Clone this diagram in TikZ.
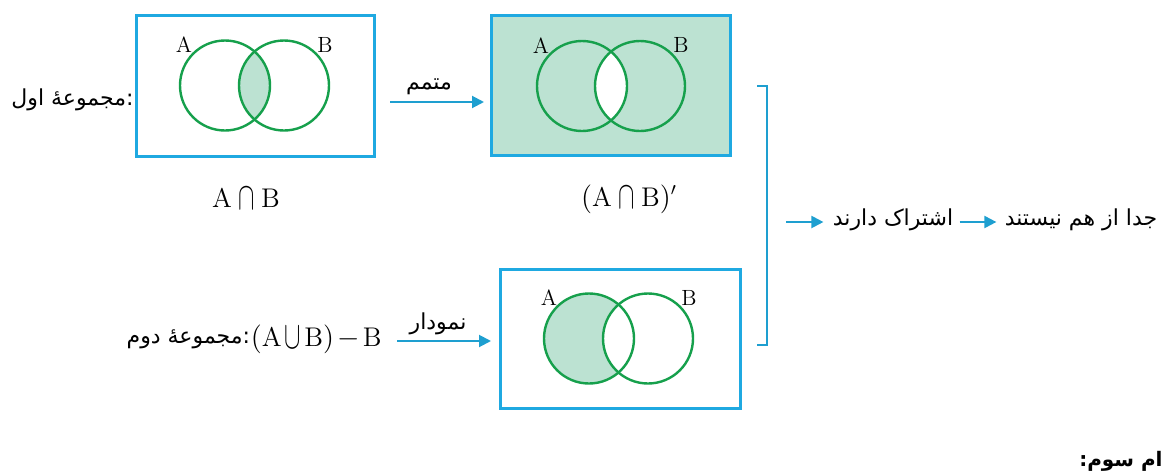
\documentclass[tikz,border=0pt]{standalone}
\usepackage{fontspec}
\usepackage{graphicx}
\usetikzlibrary{arrows.meta}
\TeXXeTstate=1
\newfontfamily\arabicfont[Script=Arabic]{DejaVu Sans}
\definecolor{frame}{HTML}{1FA9E1}
\definecolor{venn}{HTML}{16A04C}
\definecolor{vfill}{HTML}{BCE2D2}
\definecolor{arrowc}{HTML}{1E9FD0}
\newcommand{\tallcap}{\mathbin{\raisebox{-1pt}{\scalebox{0.85}[1.35]{$\cap$}}}}
\newcommand{\tallcup}{\mathbin{\raisebox{-1pt}{\scalebox{0.85}[1.35]{$\cup$}}}}
\tikzset{
  box/.style={draw=frame, line width=1.5pt, rectangle, inner sep=0pt},
  ring/.style={draw=venn, line width=1.2pt},
  lab/.style={font=\fontsize{11}{13}\selectfont, inner sep=0pt},
  captext/.style={font=\fontsize{13.5}{16}\selectfont, inner sep=0pt},
  fa/.style={font=\arabicfont\fontsize{11}{13}\selectfont, inner sep=0pt},
  arr/.style={draw=arrowc, line width=1pt, -{Triangle[length=6pt,width=6pt]}},
  brk/.style={draw=arrowc, line width=1.2pt}
}
\begin{document}
\begin{tikzpicture}[x=0.5pt,y=-0.5pt]
\useasboundingbox (0,0) rectangle (1164,472);
% ---- box 1 : A cap B
\node[box, minimum width=119pt, minimum height=70.5pt] (box1) at (255,85.5) {};
\begin{scope}
  \clip (225,85.5) circle (45);
  \fill[vfill] (284,85.5) circle (45);
\end{scope}
\draw[ring] (225,85.5) circle (45);
\draw[ring] (284,85.5) circle (45);
\node[lab] (a1) at (184,45) {A};
\node[lab] (b1) at (325,45) {B};
\node[captext] (c1) at (246,199) {$\mathrm{A}\tallcap\mathrm{B}$};
% ---- box 2 : complement
\node[box, fill=vfill, minimum width=119.5pt, minimum height=70pt] (box2) at (610.5,85) {};
\begin{scope}
  \clip (582,86) circle (45);
  \fill[white] (640,86) circle (45);
\end{scope}
\draw[ring] (582,86) circle (45);
\draw[ring] (640,86) circle (45);
\node[lab] (a2) at (541,46) {A};
\node[lab] (b2) at (681,45) {B};
\node[captext] (c2) at (629,199) {$(\mathrm{A}\tallcap\mathrm{B})'$};
% ---- box 3 : (A cup B) - B
\node[box, minimum width=120pt, minimum height=69.5pt] (box3) at (620,338.5) {};
\begin{scope}
  \clip (589,338.5) circle (45);
  \fill[vfill] (589,338.5) circle (45);
  \fill[white] (648,338.5) circle (45);
\end{scope}
\draw[ring] (589,338.5) circle (45);
\draw[ring] (648,338.5) circle (45);
\node[lab] (a3) at (549,298) {A};
\node[lab] (b3) at (689,298) {B};
% ---- row 1 texts and arrow
\node[fa, anchor=east] (t1) at (134,100) {\arabicfont\beginR :مجموعهٔ اول\endR};
\coordinate (p1s) at (390,102);
\coordinate (p1e) at (484,102);
\draw[arr] (p1s) -- (p1e);
\node[fa] (m1) at (429,87) {\arabicfont\beginR متمم\endR};
% ---- row 2 texts and arrow
\node[captext, anchor=east] (f2) at (382,339) {\medmuskip=2mu$(\mathrm{A}\tallcup\mathrm{B})-\mathrm{B}$};
\node[fa, anchor=east] (t2) at (f2.west) {\arabicfont\beginR :مجموعهٔ دوم\endR};
\coordinate (p2s) at (397,341);
\coordinate (p2e) at (491,341);
\draw[arr] (p2s) -- (p2e);
\node[fa] (m2) at (438,324) {\arabicfont\beginR نمودار\endR};
% ---- bracket
\coordinate (bt) at (757,86);
\coordinate (bb) at (757,345);
\draw[brk] (bt) -- (767,86) -- (767,345) -- (bb);
\coordinate (q0) at (786,222);
\node[fa] (t3) at (893,220) {\arabicfont\beginR اشتراک دارند\endR};
\node[fa] (t4) at (1081,220) {\arabicfont\beginR جدا از هم نیستند\endR};
\draw[arr] (q0) -- ([xshift=-4.5pt]t3.west |- q0);
\draw[arr] ([xshift=3pt]t3.east |- q0) -- ([xshift=-4pt]t4.west |- q0);
% ---- bottom cropped title
\node[fa, font=\arabicfont\bfseries\fontsize{10}{12}\selectfont, anchor=east] (t5) at (1163,461) {\arabicfont\bfseries\beginR ام سوم:\endR};
\end{tikzpicture}
\end{document}
